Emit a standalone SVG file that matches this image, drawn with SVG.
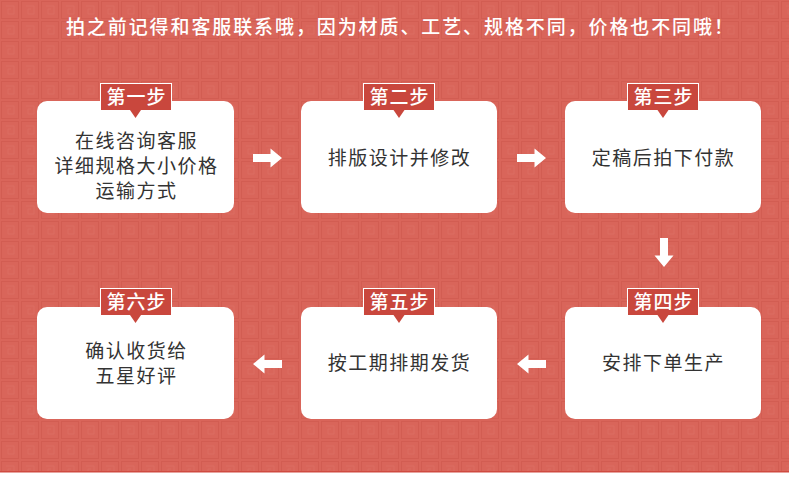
<svg xmlns="http://www.w3.org/2000/svg" width="789" height="486" viewBox="0 0 789 486">
  <defs>
    <pattern id="bgp" x="0" y="0" width="20" height="20" patternUnits="userSpaceOnUse">
      <rect width="20" height="20" fill="#d9655a"/>
      <rect x="1.5" y="1.5" width="17" height="17" fill="none" stroke="#d25d52" stroke-width="1"/>
      <path d="M6 6 H14 V14 H8 V9 H11" fill="none" stroke="#dc6c61" stroke-width="1"/>
    </pattern>
    <path id="arr" d="M-14.5 -4 H3 V-9.5 L14.5 0 L3 9.5 V4 H-14.5 Z"/>
  </defs>
  <style>
    .box { fill: #ffffff; }
    .tab { fill: #c9473d; stroke: #ffffff; stroke-width: 1; }
    .ptr { fill: #c9473d; }
    .tabt { font-family: "Noto Sans CJK SC", sans-serif; font-size: 19px; font-weight: 500; fill: #ffffff; text-anchor: middle; letter-spacing: 1px; }
    .bt { font-family: "Noto Sans CJK SC", sans-serif; font-size: 19px; fill: #333333; text-anchor: middle; letter-spacing: 1.5px; }
    .title { font-family: "Noto Sans CJK SC", sans-serif; font-size: 19px; font-weight: 500; fill: #ffffff; letter-spacing: 1.9px; }
    .ar { fill: #ffffff; }
  </style>
  <rect x="0" y="0" width="789" height="472" fill="url(#bgp)"/>
  <rect x="0" y="472" width="789" height="14" fill="#ffffff"/>
  <rect x="0" y="471" width="789" height="1.5" fill="#cf4a40"/>

  <text class="title" x="66" y="34">拍之前记得和客服联系哦，因为材质、工艺、规格不同，价格也不同哦！</text>

  <g id="connectors">
    <use href="#arr" class="ar" transform="translate(267.5,158)"/>
    <use href="#arr" class="ar" transform="translate(531.5,158)"/>
    <use href="#arr" class="ar" transform="translate(664,252.5) rotate(90)"/>
    <use href="#arr" class="ar" transform="translate(531.5,364) rotate(180)"/>
    <use href="#arr" class="ar" transform="translate(267.5,364) rotate(180)"/>
  </g>

  <g id="step1">
    <rect class="box" x="37" y="101" width="197" height="112" rx="10"/>
    <rect class="tab" x="100.5" y="83.5" width="71" height="27"/>
    <path class="ptr" d="M130 110 H141 L135.5 118 Z"/>
    <text class="tabt" x="136.5" y="104">第一步</text>
    <text class="bt" x="136.5" y="148">在线咨询客服</text>
    <text class="bt" x="136.5" y="173">详细规格大小价格</text>
    <text class="bt" x="136.5" y="198">运输方式</text>
  </g>
  <g id="step2">
    <rect class="box" x="301" y="101" width="196" height="112" rx="10"/>
    <rect class="tab" x="363.5" y="83.5" width="71" height="27"/>
    <path class="ptr" d="M393.5 110 H404.5 L399 118 Z"/>
    <text class="tabt" x="399.5" y="104">第二步</text>
    <text class="bt" x="399.5" y="165">排版设计并修改</text>
  </g>
  <g id="step3">
    <rect class="box" x="565" y="101" width="196" height="112" rx="10"/>
    <rect class="tab" x="627.5" y="83.5" width="71" height="27"/>
    <path class="ptr" d="M657.5 110 H668.5 L663 118 Z"/>
    <text class="tabt" x="663.5" y="104">第三步</text>
    <text class="bt" x="663.5" y="165">定稿后拍下付款</text>
  </g>
  <g id="step4">
    <rect class="box" x="565" y="307" width="196" height="112" rx="10"/>
    <rect class="tab" x="627.5" y="288.5" width="71" height="27"/>
    <path class="ptr" d="M657.5 315 H668.5 L663 323 Z"/>
    <text class="tabt" x="663.5" y="309">第四步</text>
    <text class="bt" x="663.5" y="370">安排下单生产</text>
  </g>
  <g id="step5">
    <rect class="box" x="301" y="307" width="196" height="112" rx="10"/>
    <rect class="tab" x="363.5" y="288.5" width="71" height="27"/>
    <path class="ptr" d="M393.5 315 H404.5 L399 323 Z"/>
    <text class="tabt" x="399.5" y="309">第五步</text>
    <text class="bt" x="399.5" y="370">按工期排期发货</text>
  </g>
  <g id="step6">
    <rect class="box" x="37" y="307" width="197" height="112" rx="10"/>
    <rect class="tab" x="100.5" y="288.5" width="71" height="27"/>
    <path class="ptr" d="M130 315 H141 L135.5 323 Z"/>
    <text class="tabt" x="136.5" y="309">第六步</text>
    <text class="bt" x="136.5" y="358">确认收货给</text>
    <text class="bt" x="136.5" y="383">五星好评</text>
  </g>
</svg>
